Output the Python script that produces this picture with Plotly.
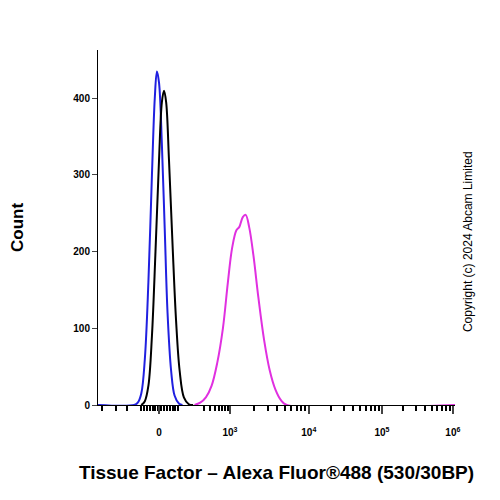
import plotly.graph_objects as go
import math

blue_x = [-0.86,-0.35,-0.3,-0.25,-0.2,-0.15,-0.1,-0.06,-0.03,0,0.04,0.08,0.12,0.17,0.22,0.28,0.33]
blue_y = [0,0,3,15,60,160,300,400,435,420,340,230,120,45,12,2,0]
black_x = [-0.25,-0.2,-0.15,-0.1,-0.05,0,0.04,0.07,0.1,0.14,0.19,0.24,0.29,0.35,0.42,0.48]
black_y = [0,5,25,90,200,320,395,410,395,320,210,110,45,10,1,0]
mag_x = [0.5,0.58,0.66,0.74,0.82,0.9,0.97,1.03,1.09,1.13,1.18,1.22,1.27,1.33,1.4,1.48,1.56,1.64,1.72,1.8,4.17]
mag_y = [0,3,10,25,55,100,160,205,228,232,245,248,232,195,140,85,45,20,6,0,0]
tick_pos = [0, 1, 2.11, 3.14, 4.14]
tick_txt = ["<b>0</b>", "<b>10<sup>3</sup></b>", "<b>10<sup>4</sup></b>", "<b>10<sup>5</sup></b>", "<b>10<sup>6</sup></b>"]
y_ticks = [0, 100, 200, 300, 400]
y_txt = ["<b>0</b>", "<b>100</b>", "<b>200</b>", "<b>300</b>", "<b>400</b>"]

minor = []
for i in range(1, 4):
    a, b = tick_pos[i], tick_pos[i+1]
    for k in range(2, 10):
        minor.append(a + math.log10(k) * (b - a))
for k in range(3, 10):
    minor.append(0.3 + math.log10(k) * 0.7)
minor += [-0.25 + 0.04*i for i in range(14)]
minor += [-0.8, -0.6, -0.45]

fig = go.Figure()
fig.add_trace(go.Scatter(x=mag_x, y=mag_y, mode="lines", line=dict(color="#e030e0", width=2, shape="spline")))
fig.add_trace(go.Scatter(x=blue_x, y=blue_y, mode="lines", line=dict(color="#2020e0", width=2, shape="spline")))
fig.add_trace(go.Scatter(x=black_x, y=black_y, mode="lines", line=dict(color="black", width=2, shape="spline")))

fig.update_layout(
    width=500, height=500, showlegend=False,
    margin=dict(l=90, r=53, t=42, b=103, autoexpand=False),
    plot_bgcolor="white", paper_bgcolor="white",
    font=dict(family="Liberation Sans, Arial", color="black", size=10),
    xaxis=dict(range=[-0.86, 4.17], tickvals=tick_pos, ticktext=tick_txt, ticks="outside", automargin=False,
               ticklen=8, tickwidth=2, showgrid=False, zeroline=False, showline=True,
               linecolor="black", linewidth=1, ticklabelstandoff=10,
               minor=dict(tickvals=minor, ticks="outside", ticklen=5, tickwidth=1.5, tickcolor="black"),
               title=dict(text="<b>Tissue Factor – Alexa Fluor®488 (530/30BP)</b>", font=dict(size=19), standoff=28)),
    yaxis=dict(range=[0, 463], tickvals=y_ticks, ticktext=y_txt, ticks="outside", ticklen=5, showgrid=False,
               automargin=False, zeroline=False, showline=True, linecolor="black", linewidth=1,
               title=dict(text="<b>Count</b>", font=dict(size=17), standoff=50)),
)
fig.add_annotation(text="Copyright (c) 2024 Abcam Limited", x=1.06, y=0.46, xref="paper", yref="paper",
                   textangle=-90, showarrow=False, font=dict(size=12))
fig.write_html("out.html")
